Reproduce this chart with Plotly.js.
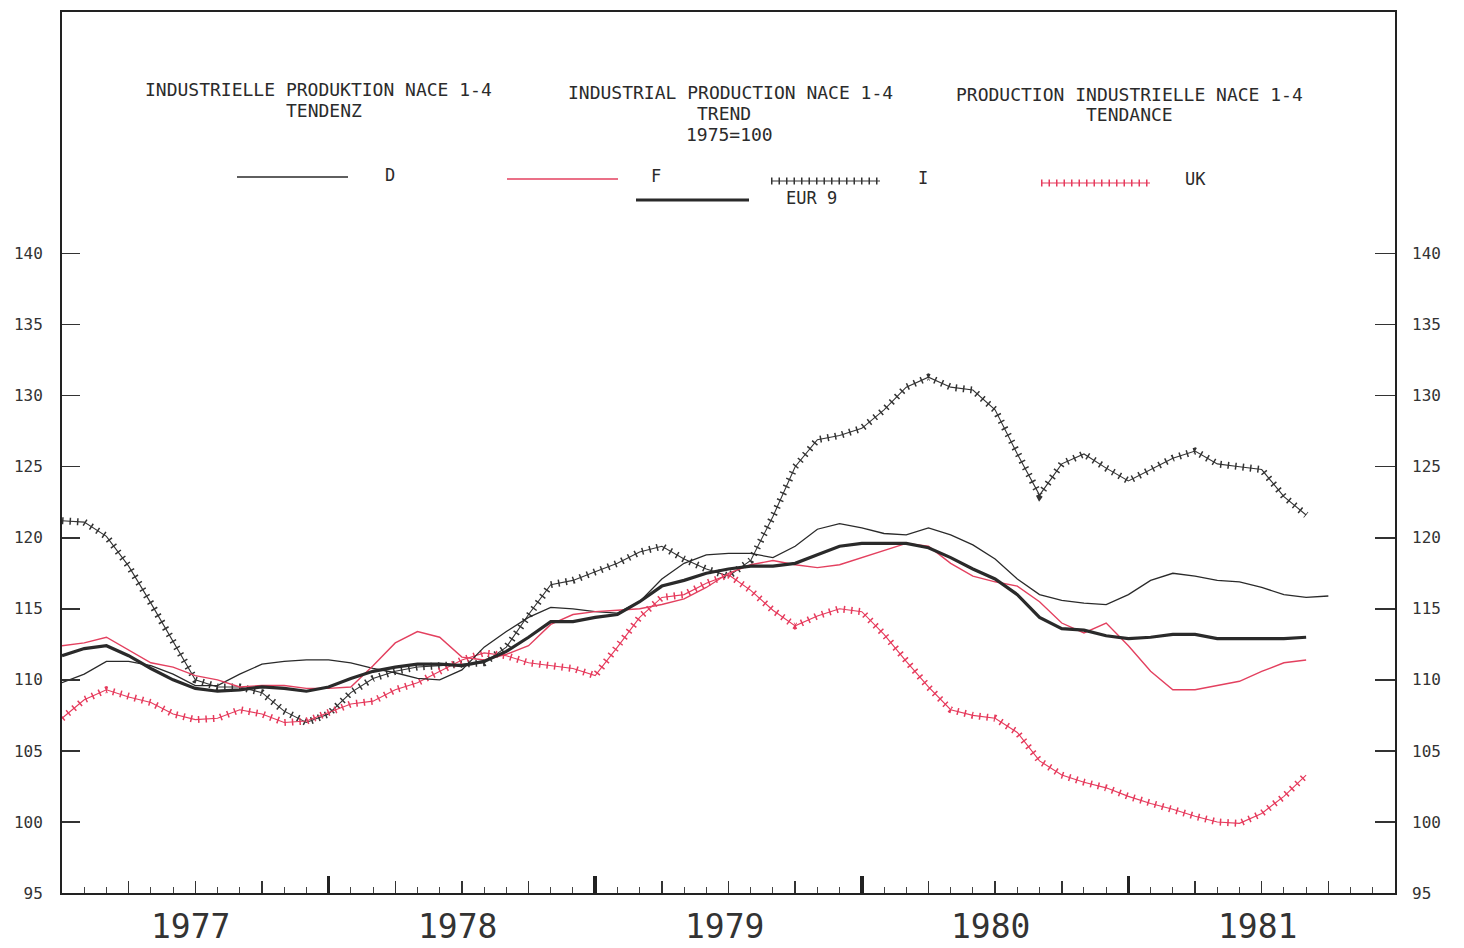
<!DOCTYPE html>
<html>
<head>
<meta charset="utf-8">
<script src="https://cdn.plot.ly/plotly-3.0.1.min.js"></script>
<style>
html,body{margin:0;padding:0;background:#ffffff;}
#chart{width:1464px;height:948px;}
</style>
</head>
<body>
<div id="chart"></div>
<script>
// Industrial production NACE 1-4, trend, 1975 = 100
// Monthly values; index 0 = January 1977
const seriesD = [109.8,110.4,111.3,111.3,111.0,110.4,109.6,109.6,110.4,111.1,
                 111.3,111.4,111.4,111.2,110.8,110.5,110.1,110.0,110.7,112.3,
                 113.4,114.4,115.1,115.0,114.8,114.7,115.5,117.1,118.2,118.8,
                 118.9,118.9,118.6,119.4,120.6,121.0,120.7,120.3,120.2,120.7,
                 120.2,119.5,118.5,117.1,116.0,115.6,115.4,115.3,116.0,117.0,
                 117.5,117.3,117.0,116.9,116.5,116.0,115.8,115.9];
const seriesF = [112.4,112.6,113.0,112.1,111.2,110.9,110.3,110.0,109.5,109.6,
                 109.6,109.4,109.4,109.5,111.0,112.6,113.4,113.0,111.6,111.4,
                 111.8,112.4,113.9,114.6,114.8,114.9,115.0,115.3,115.7,116.5,
                 117.5,118.1,118.4,118.1,117.9,118.1,118.6,119.1,119.6,119.4,
                 118.2,117.3,116.9,116.6,115.5,114.0,113.3,114.0,112.4,110.6,
                 109.3,109.3,109.6,109.9,110.6,111.2,111.4];
const seriesI = [121.2,121.1,120.1,118.0,115.4,112.7,110.0,109.5,109.5,109.1,
                 107.8,107.0,107.6,109.1,110.1,110.6,110.9,111.0,111.1,111.2,
                 112.3,114.6,116.7,117.0,117.6,118.2,119.0,119.4,118.5,117.8,
                 117.3,118.4,121.5,125.0,126.9,127.2,127.7,129.0,130.6,131.3,
                 130.6,130.4,129.0,125.9,123.0,125.2,125.9,124.9,124.0,124.8,
                 125.6,126.1,125.2,125.0,124.8,122.9,121.6];
const seriesUK = [107.3,108.6,109.3,108.8,108.4,107.6,107.2,107.3,107.9,107.6,
                  107.0,107.1,107.7,108.3,108.5,109.3,109.8,110.6,111.4,111.9,
                  111.7,111.2,111.0,110.8,110.3,112.3,114.4,115.8,116.0,116.8,
                  117.4,116.3,114.9,113.8,114.5,115.0,114.8,113.2,111.3,109.5,
                  107.9,107.5,107.3,106.3,104.3,103.3,102.8,102.4,101.8,101.3,
                  100.9,100.4,100.0,99.9,100.6,101.8,103.3];
const seriesEUR9 = [111.7,112.2,112.4,111.7,110.8,110.0,109.4,109.2,109.3,109.5,
                    109.4,109.2,109.5,110.1,110.6,110.9,111.1,111.1,111.0,111.3,
                    112.0,113.0,114.1,114.1,114.4,114.6,115.5,116.6,117.0,117.5,
                    117.8,118.0,118.0,118.2,118.8,119.4,119.6,119.6,119.6,119.3,
                    118.6,117.8,117.1,116.0,114.4,113.6,113.5,113.1,112.9,113.0,
                    113.2,113.2,112.9,112.9,112.9,112.9,113.0];
const yearLabels = ['1977','1978','1979','1980','1981'];
const yTickVals = [95,100,105,110,115,120,125,130,135,140];
const legendNames = ['D','F','EUR 9','I','UK'];
const titleDE = ['INDUSTRIELLE PRODUKTION NACE 1-4','TENDENZ'];
const titleEN = ['INDUSTRIAL PRODUCTION NACE 1-4','TREND','1975=100'];
const titleFR = ['PRODUCTION INDUSTRIELLE NACE 1-4','TENDANCE'];

const idx = a => a.map((_, i) => i);

const BLACK = '#2a2a2a';
const RED = '#e3405f';
const UKRED = '#e63a5c';
const CROSS = '1.5px,6px';
const mono = 'DejaVu Sans Mono, Liberation Mono, monospace';

const traces = [
  {x: idx(seriesI), y: seriesI, mode: 'lines', line: {color: '#333', width: 1.1}},
  {x: idx(seriesI), y: seriesI, mode: 'lines', line: {color: '#333', width: 7, dash: CROSS}},
  {x: idx(seriesUK), y: seriesUK, mode: 'lines', line: {color: UKRED, width: 1.1}},
  {x: idx(seriesUK), y: seriesUK, mode: 'lines', line: {color: UKRED, width: 7, dash: CROSS}},
  {x: idx(seriesD), y: seriesD, mode: 'lines', line: {color: BLACK, width: 1.3}},
  {x: idx(seriesF), y: seriesF, mode: 'lines', line: {color: RED, width: 1.4}},
  {x: idx(seriesEUR9), y: seriesEUR9, mode: 'lines', line: {color: BLACK, width: 3.2},
   xaxis: 'x2', yaxis: 'y2'}
];

// pixel helpers for the header block (paper coordinates)
const L = 62, R = 1395, T = 12, B = 893;
const px = v => (v - L) / (R - L);
const py = v => (B - v) / (B - T);

const annotations = [];
function addLines(lines, cx, ys) {
  lines.forEach((t, i) => annotations.push({
    text: t, xref: 'paper', yref: 'paper', x: px(cx[i]), y: py(ys[i]),
    xanchor: 'center', yanchor: 'middle', showarrow: false,
    font: {family: mono, size: 18, color: '#2b2b2b'}
  }));
}
addLines(titleDE, [318, 324], [89, 110]);
addLines(titleEN, [730, 724, 729], [92, 113, 134]);
addLines(titleFR, [1129, 1129], [94, 115]);

const legendPos = [[390, 175], [656, 176], [812, 198], [923, 178], [1195, 179]];
legendNames.forEach((n, i) => annotations.push({
  text: n, xref: 'paper', yref: 'paper', x: px(legendPos[i][0]), y: py(legendPos[i][1]),
  xanchor: 'center', yanchor: 'middle', showarrow: false,
  font: {family: mono, size: 17, color: '#2b2b2b'}
}));

yearLabels.forEach((t, i) => annotations.push({
  text: t, xref: 'x', yref: 'paper', x: i * 12 + 5.8, y: py(926),
  xanchor: 'center', yanchor: 'middle', showarrow: false,
  font: {family: mono, size: 33, color: '#333'}
}));

function seg(x0, x1, y, color, width, dash) {
  return {type: 'line', xref: 'paper', yref: 'paper', x0: px(x0), x1: px(x1), y0: py(y), y1: py(y),
          line: {color: color, width: width, dash: dash || 'solid'}};
}
const shapes = [
  seg(237, 348, 177, BLACK, 1.3),
  seg(507, 618, 179, RED, 1.4),
  seg(636, 749, 200, BLACK, 3.2),
  seg(771, 880, 181, '#333', 1.1),
  seg(771, 880, 181, '#333', 7, CROSS),
  seg(1041, 1150, 183, UKRED, 1.1),
  seg(1041, 1150, 183, UKRED, 7, CROSS)
];

const tickFont = {family: mono, size: 16, color: '#333'};

const layout = {
  width: 1464, height: 948,
  margin: {l: L, r: 1464 - R, t: T, b: 948 - B, pad: 0},
  paper_bgcolor: '#ffffff', plot_bgcolor: '#ffffff',
  showlegend: false, hovermode: false,
  xaxis: {
    range: [0, 60], tickmode: 'linear', tick0: 0, dtick: 3,
    ticks: 'inside', ticklen: 12, tickwidth: 1.5, tickcolor: '#333',
    showticklabels: false, showgrid: false, zeroline: false,
    showline: true, mirror: true, linecolor: '#222', linewidth: 2,
    minor: {tick0: 0, dtick: 1, ticks: 'inside', ticklen: 6, tickwidth: 1, tickcolor: '#444', showgrid: false}
  },
  xaxis2: {
    overlaying: 'x', range: [0, 60], tickmode: 'linear', tick0: 0, dtick: 12,
    ticks: 'inside', ticklen: 17, tickwidth: 3.5, tickcolor: '#222',
    showticklabels: false, showgrid: false, zeroline: false, showline: false
  },
  yaxis: {
    range: [95, 157], tickmode: 'array', tickvals: yTickVals,
    ticks: 'inside', ticklen: 18, tickwidth: 1.5, tickcolor: '#333',
    showgrid: false, zeroline: false, showline: true, mirror: true,
    linecolor: '#222', linewidth: 2, tickfont: tickFont, ticklabelstandoff: 14
  },
  yaxis2: {
    overlaying: 'y', side: 'right', range: [95, 157], tickmode: 'array', tickvals: yTickVals,
    ticks: 'inside', ticklen: 20, tickwidth: 1.5, tickcolor: '#333',
    showgrid: false, zeroline: false, showline: false, tickfont: tickFont, ticklabelstandoff: 16
  },
  annotations: annotations,
  shapes: shapes
};

Plotly.newPlot('chart', traces, layout, {displayModeBar: false, staticPlot: true});
</script>
</body>
</html>
